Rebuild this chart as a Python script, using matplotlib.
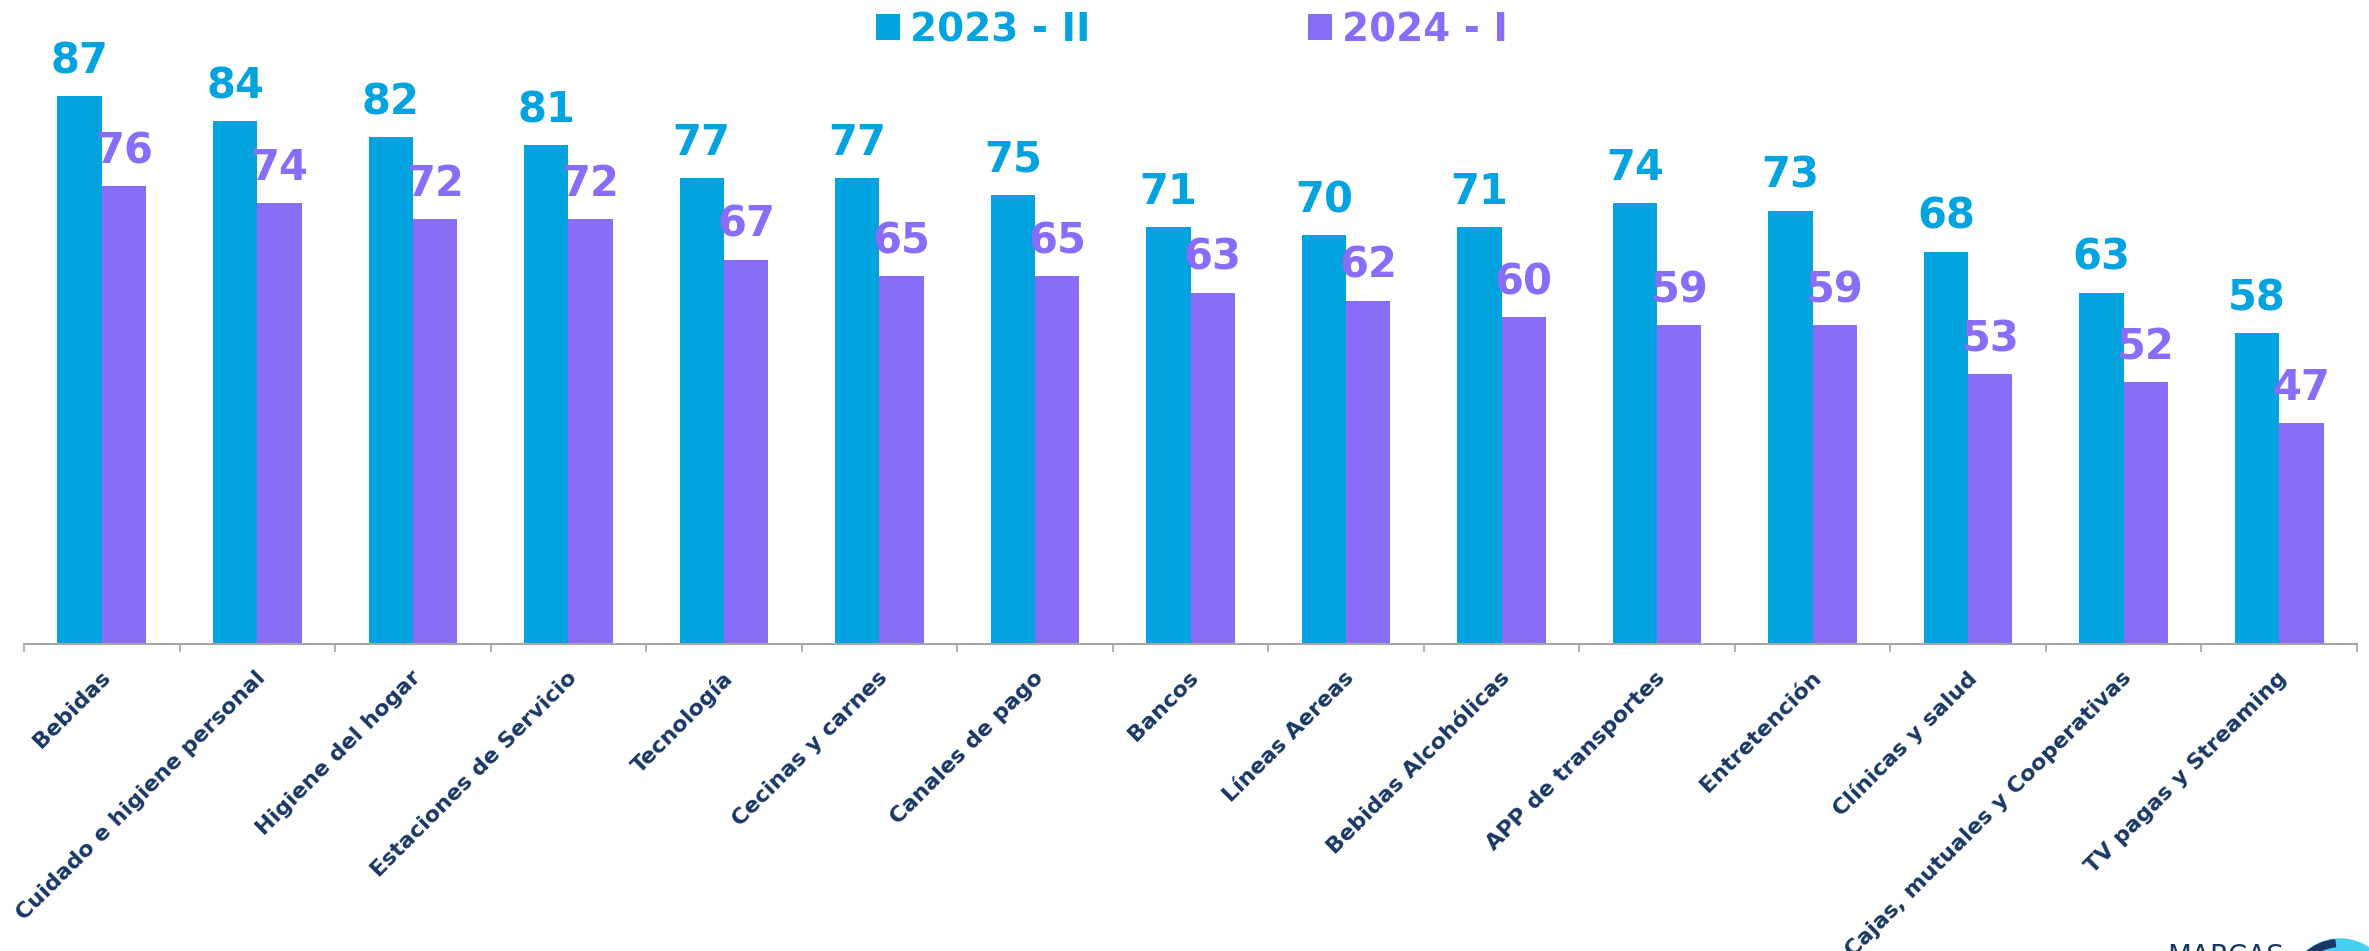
import numpy as np
import matplotlib.pyplot as plt
from matplotlib import patches
from matplotlib.transforms import ScaledTranslation

categorias = ["Bebidas", "Cuidado e higiene personal", "Higiene del hogar",
              "Estaciones de Servicio", "Tecnología", "Cecinas y carnes",
              "Canales de pago", "Bancos", "Líneas Aereas", "Bebidas Alcohólicas",
              "APP de transportes", "Entretención", "Clínicas y salud",
              "Cajas, mutuales y Cooperativas", "TV pagas y Streaming"]
serie_2023 = [87, 84, 82, 81, 77, 77, 75, 71, 70, 71, 74, 73, 68, 63, 58]
serie_2024 = [76, 74, 72, 72, 67, 65, 65, 63, 62, 60, 59, 59, 53, 52, 47]
nombres = ["2023 - II", "2024 - I"]

azul = "#03A3E0"
morado = "#896CF8"
navy = "#183764"
gris = "#A6A6A6"

plt.rcParams['font.family'] = ['DejaVu Sans']

fig = plt.figure(figsize=(23.69, 9.51), dpi=100)
ax = fig.add_axes([24/2369, 1 - 644/951, (2357 - 24)/2369, 644/951])

x = np.arange(len(categorias))
w = 0.285
b1 = ax.bar(x - w/2, serie_2023, w, color=azul, label=nombres[0])
b2 = ax.bar(x + w/2, serie_2024, w, color=morado, label=nombres[1])

for bars, vals, col in [(b1, serie_2023, azul), (b2, serie_2024, morado)]:
    for r, v in zip(bars, vals):
        ax.annotate(str(v), (r.get_x() + r.get_width()/2, v), xytext=(0, 16.5),
                    textcoords="offset points", ha="center", va="baseline",
                    fontsize=30, fontweight="bold", color=col)

ax.set_ylim(20, 98.8)
ax.set_xlim(-0.5, len(categorias) - 0.5)
ax.set_yticks([])
for s in ["left", "right", "top"]:
    ax.spines[s].set_visible(False)
ax.spines["bottom"].set_color(gris)
ax.spines["bottom"].set_linewidth(1.5)

ax.set_xticks(x)
ax.set_xticklabels(categorias, rotation=45, ha="right", va="top",
                   rotation_mode="anchor", fontsize=16, fontweight="bold",
                   color=navy)
ax.tick_params(axis="x", which="major", length=0, pad=17)
ax.set_xticks(np.arange(-0.5, len(categorias)), minor=True)
ax.tick_params(axis="x", which="minor", length=6, width=1.2, color=gris)
for lbl in ax.get_xticklabels():
    lbl.set_transform(lbl.get_transform() + ScaledTranslation(-0.02, 0, fig.dpi_scale_trans))

leg = fig.legend(handles=[b1, b2], loc="center", bbox_to_anchor=(1192/2369, 1 - 30/951),
                 ncol=2, frameon=False, fontsize=28, handlelength=0.62,
                 handleheight=0.66, handletextpad=0.25, columnspacing=5.6)
for t, col in zip(leg.get_texts(), [azul, morado]):
    t.set_color(col)
    t.set_fontweight("bold")

# logo parcialmente visible en la esquina
fig.text(2167/2369, 1 - 943/951, "MARCAS", ha="left", va="top", fontsize=20, color=navy)
circ = patches.Circle((23.40, -0.40), 0.52, transform=fig.dpi_scale_trans,
                      color="#45D0F2", clip_on=False)
fig.patches.append(circ)
arc = patches.Arc((23.40, -0.40), 0.96, 0.96, theta1=95, theta2=175,
                  transform=fig.dpi_scale_trans, color=navy, lw=6)
fig.patches.append(arc)

fig.savefig("out.png", dpi=100)
